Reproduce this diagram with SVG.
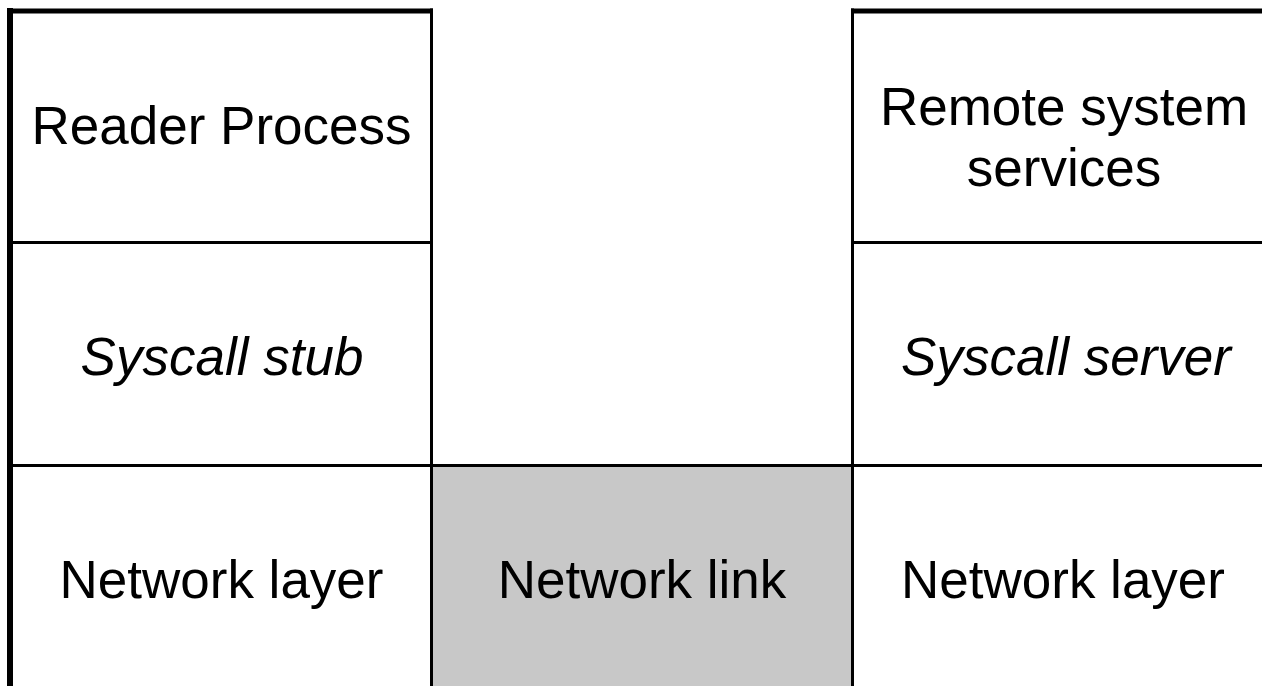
<svg xmlns="http://www.w3.org/2000/svg" width="1262" height="686" viewBox="0 0 1262 686">
<style>
.t{font-family:"Liberation Sans",Arial,sans-serif;font-size:53px;fill:#000;text-anchor:middle}
.i{font-style:italic}
.ln{stroke:#000;fill:none}
</style>
<rect width="1262" height="686" fill="#fff"/>
<g id="connectors">
</g>
<g id="reader-process">
<text class="t" x="221.5" y="144">Reader Process</text>
</g>
<g id="syscall-stub">
<text class="t i" x="222" y="375">Syscall stub</text>
</g>
<g id="network-layer-left">
<text class="t" x="221.5" y="598">Network layer</text>
</g>
<g id="network-link">
<rect x="432" y="466" width="420" height="220" fill="#c8c8c8"/>
<text class="t" x="642" y="598">Network link</text>
</g>
<g id="remote-services">
<text class="t" x="1064" y="125">Remote system</text>
<text class="t" x="1064" y="186">services</text>
</g>
<g id="syscall-server">
<text class="t i" x="1066" y="375">Syscall server</text>
</g>
<g id="network-layer-right">
<text class="t" x="1063" y="598">Network layer</text>
</g>
<g id="grid">
<line class="ln" x1="10" y1="8" x2="10" y2="686" stroke-width="6"/>
<line class="ln" x1="7" y1="11" x2="433" y2="11" stroke-width="5"/>
<line class="ln" x1="851" y1="11" x2="1262" y2="11" stroke-width="5"/>
<line class="ln" x1="431.5" y1="8.5" x2="431.5" y2="686" stroke-width="3"/>
<line class="ln" x1="852.5" y1="8.5" x2="852.5" y2="686" stroke-width="3"/>
<line class="ln" x1="10" y1="242.5" x2="433" y2="242.5" stroke-width="3"/>
<line class="ln" x1="851" y1="242.5" x2="1262" y2="242.5" stroke-width="3"/>
<line class="ln" x1="10" y1="465.5" x2="1262" y2="465.5" stroke-width="3"/>
</g>
</svg>
